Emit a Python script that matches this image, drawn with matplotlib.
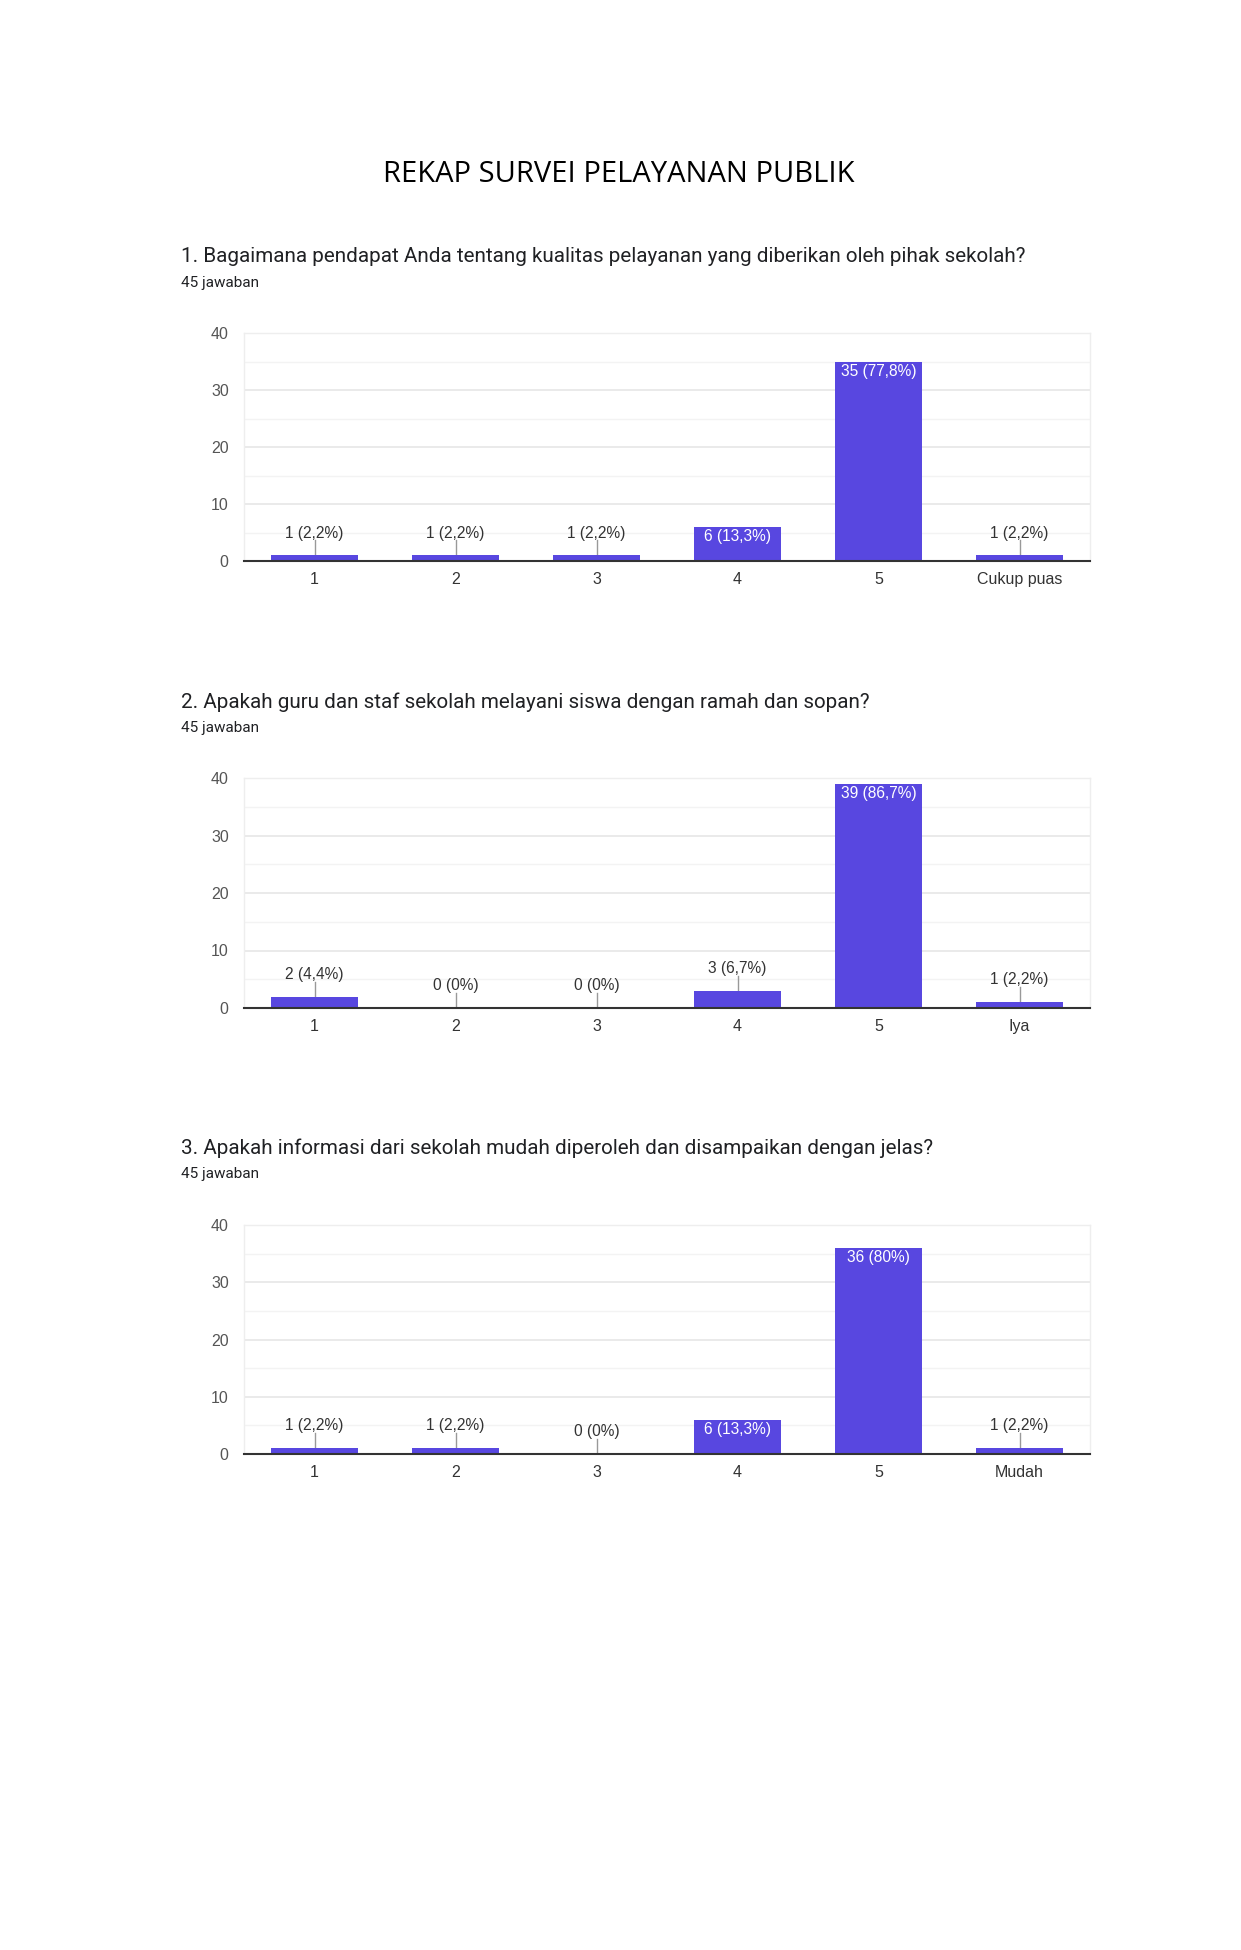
import matplotlib
matplotlib.use("Agg")
import matplotlib.pyplot as plt
from matplotlib.ticker import MultipleLocator

# ---- data ----
doc_title = "REKAP SURVEI PELAYANAN PUBLIK"
responses_note = "45 jawaban"

q1_title = "1. Bagaimana pendapat Anda tentang kualitas pelayanan yang diberikan oleh pihak sekolah?"
q1_categories = ["1", "2", "3", "4", "5", "Cukup puas"]
q1_counts = [1, 1, 1, 6, 35, 1]
q1_labels = ["1 (2,2%)", "1 (2,2%)", "1 (2,2%)", "6 (13,3%)", "35 (77,8%)", "1 (2,2%)"]

q2_title = "2. Apakah guru dan staf sekolah melayani siswa dengan ramah dan sopan?"
q2_categories = ["1", "2", "3", "4", "5", "Iya"]
q2_counts = [2, 0, 0, 3, 39, 1]
q2_labels = ["2 (4,4%)", "0 (0%)", "0 (0%)", "3 (6,7%)", "39 (86,7%)", "1 (2,2%)"]

q3_title = "3. Apakah informasi dari sekolah mudah diperoleh dan disampaikan dengan jelas?"
q3_categories = ["1", "2", "3", "4", "5", "Mudah"]
q3_counts = [1, 1, 0, 6, 36, 1]
q3_labels = ["1 (2,2%)", "1 (2,2%)", "0 (0%)", "6 (13,3%)", "36 (80%)", "1 (2,2%)"]

y_ticks = [0, 10, 20, 30, 40]

# ---- style ----
W, H = 1241, 1950
BAR = "#5847E0"
CHART_FONT = ["Liberation Sans", "DejaVu Sans"]
TEXT_FONT = ["Roboto", "DejaVu Sans"]
fig = plt.figure(figsize=(W / 100, H / 100), dpi=100)
fig.patch.set_facecolor("white")

def px(x, y):
    return x / W, 1 - y / H

fig.text(*px(619, 175), doc_title, ha="center", va="center",
         fontsize=21, family=["Open Sans", "DejaVu Sans"], color="#000000")

questions = [
    (q1_title, q1_categories, q1_counts, q1_labels, 257, 283, 333, 561),
    (q2_title, q2_categories, q2_counts, q2_labels, 702, 728, 778, 1008),
    (q3_title, q3_categories, q3_counts, q3_labels, 1148, 1174, 1225, 1454),
]

left, right = 244, 1090
for title, cats, counts, labels, ty, sy, top, bottom in questions:
    fig.text(*px(181, ty), title, ha="left", va="center", fontsize=14.85,
             family=TEXT_FONT, color="#202124")
    fig.text(*px(181, sy), responses_note, ha="left", va="center", fontsize=11,
             family=TEXT_FONT, color="#202124")

    ax = fig.add_axes([left / W, 1 - bottom / H, (right - left) / W, (bottom - top) / H])
    x = list(range(len(cats)))
    ax.bar(x, counts, width=0.62, color=BAR, zorder=3)
    ax.set_xlim(-0.5, len(cats) - 0.5)
    ax.set_ylim(0, 40)
    ax.set_yticks(y_ticks)
    ax.yaxis.set_minor_locator(MultipleLocator(5))
    ax.grid(axis="y", which="major", color="#e6e6e6", lw=1.2, zorder=0)
    ax.grid(axis="y", which="minor", color="#f3f3f3", lw=1.0, zorder=0)
    ax.set_xticks(x)
    ax.set_xticklabels(cats)
    ax.tick_params(axis="both", which="both", length=0)
    ax.tick_params(axis="y", pad=11, labelsize=11.5, labelcolor="#555555")
    ax.tick_params(axis="x", pad=8, labelsize=11.5, labelcolor="#333333")
    for lab in ax.get_xticklabels() + ax.get_yticklabels():
        lab.set_family(CHART_FONT)
    for s in ["left", "right", "top"]:
        ax.spines[s].set_color("#eeeeee")
        ax.spines[s].set_linewidth(1.0)
    ax.spines["bottom"].set_color("#333333")
    ax.spines["bottom"].set_linewidth(1.5)
    ax.spines["bottom"].set_zorder(5)

    for xi, v, lab in zip(x, counts, labels):
        if v >= 5:
            ax.text(xi, v - 1.7, lab, ha="center", va="center", color="white",
                    fontsize=11.2, family=CHART_FONT, zorder=4)
        else:
            ax.plot([xi, xi], [v, v + 2.6], color="#999999", lw=1.0, zorder=2)
            ax.text(xi, v + 3.9, lab, ha="center", va="center", color="#333333",
                    fontsize=11.2, family=CHART_FONT, zorder=4)

fig.savefig("out.png", dpi=100, facecolor="white")
